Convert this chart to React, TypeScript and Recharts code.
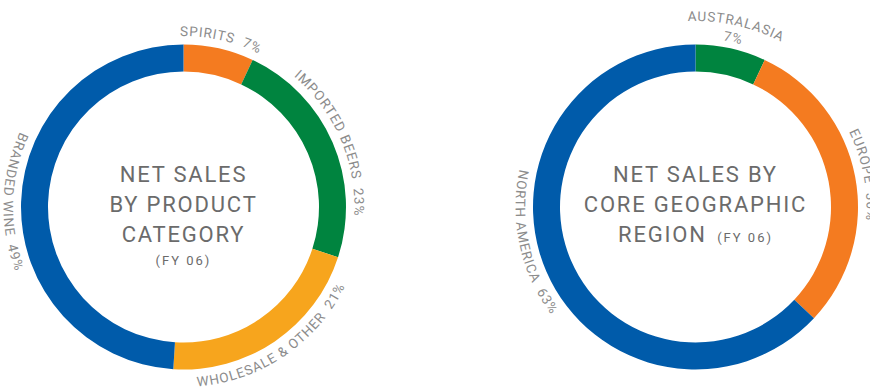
import React from 'react';
import { PieChart, Pie, Cell } from 'recharts';

// product category split (FY 06), clockwise from 12 o'clock
const productNames = ['SPIRITS', 'IMPORTED BEERS', 'WHOLESALE & OTHER', 'BRANDED WINE'];
const productShares = [7, 23, 21, 49];
const productColors = ['#f47b20', '#00843f', '#f7a51d', '#005baa'];

// core geographic region split (FY 06)
const regionNames = ['AUSTRALASIA', 'EUROPE', 'NORTH AMERICA'];
const regionShares = [7, 30, 63];
const regionColors = ['#00843f', '#f47b20', '#005baa'];

const productData = productNames.map((name, i) => ({ name, value: productShares[i] }));
const regionData = regionNames.map((name, i) => ({ name, value: regionShares[i] }));

const W = 870;
const H = 388;
const CY = 207;
const LEFT_CX = 183.5;
const RIGHT_CX = 695.5;
const OUTER = 162.5;
const INNER = 135.5;

const FONT = 'Roboto, "Liberation Sans", Arial, sans-serif';
const LABEL_GREY = '#8c8c8c';
const TITLE_GREY = '#6b6b6b';

// small tweaks so curved labels sit where the original designer put them
const labelNudge: Record<string, number> = { 'NORTH AMERICA': -11 };
const twoLineLabels = ['AUSTRALASIA'];

const rad = (d: number) => (d * Math.PI) / 180;

const arcPath = (cx: number, cy: number, r: number, center: number, clockwise: boolean) => {
    const span = 89;
    const from = clockwise ? center + span : center - span;
    const to = clockwise ? center - span : center + span;
    const x1 = cx + r * Math.cos(rad(from));
    const y1 = cy - r * Math.sin(rad(from));
    const x2 = cx + r * Math.cos(rad(to));
    const y2 = cy - r * Math.sin(rad(to));
    return `M ${x1} ${y1} A ${r} ${r} 0 0 ${clockwise ? 1 : 0} ${x2} ${y2}`;
};

const makeArcLabel = (chartKey: string) => (props: any) => {
    const { cx, cy, midAngle, name, value, index } = props;
    const angle = midAngle + (labelNudge[name] ?? 0);
    const clockwise = Math.cos(rad(angle)) > 0 && Math.sin(rad(angle)) > 0;
    const lines = twoLineLabels.includes(name)
        ? [
              { text: name, r: 186 },
              { text: `${value}%`, r: 169 },
          ]
        : [{ text: `${name}\u00a0\u00a0${value}%`, r: clockwise ? 171 : 180 }];

    return (
        <g key={`${chartKey}-${index}`}>
            {lines.map((line, j) => {
                const id = `arc-${chartKey}-${index}-${j}`;
                return (
                    <g key={id}>
                        <path id={id} d={arcPath(cx, cy, line.r, angle, clockwise)} fill="none" stroke="none" />
                        <text fill={LABEL_GREY} fontSize={13.5} fontFamily={FONT} letterSpacing={0.9}>
                            <textPath href={`#${id}`} startOffset="50%" textAnchor="middle">
                                {line.text}
                            </textPath>
                        </text>
                    </g>
                );
            })}
        </g>
    );
};

const Title = ({ cx, lines, note }: { cx: number; lines: string[]; note: 'own' | 'inline' }) => {
    const baselines = [181.5, 211.5, 241.5];
    return (
        <g fontFamily={FONT} fill={TITLE_GREY} textAnchor="middle">
            {lines.map((t, i) => (
                <text key={t} x={cx} y={baselines[i]} fontSize={22} letterSpacing={1.8}>
                    {t}
                    {note === 'inline' && i === lines.length - 1 && (
                        <tspan fontSize={13} letterSpacing={2}>
                            {'\u00a0\u00a0(FY 06)'}
                        </tspan>
                    )}
                </text>
            ))}
            {note === 'own' && (
                <text x={cx} y={265} fontSize={13} letterSpacing={2}>
                    (FY 06)
                </text>
            )}
        </g>
    );
};

export default function App() {
    return (
        <div style={{ position: 'absolute', left: 0, top: 0, width: W, height: H, background: '#fff' }}>
            <PieChart width={W} height={H} margin={{ top: 0, right: 0, bottom: 0, left: 0 }}>
                <Pie
                    data={productData}
                    dataKey="value"
                    nameKey="name"
                    cx={LEFT_CX}
                    cy={CY}
                    innerRadius={INNER}
                    outerRadius={OUTER}
                    startAngle={90}
                    endAngle={-270}
                    stroke="none"
                    label={makeArcLabel('product')}
                    labelLine={false}
                    isAnimationActive={false}
                >
                    {productData.map((d, i) => (
                        <Cell key={d.name} fill={productColors[i]} />
                    ))}
                </Pie>
                <Pie
                    data={regionData}
                    dataKey="value"
                    nameKey="name"
                    cx={RIGHT_CX}
                    cy={CY}
                    innerRadius={INNER}
                    outerRadius={OUTER}
                    startAngle={90}
                    endAngle={-270}
                    stroke="none"
                    label={makeArcLabel('region')}
                    labelLine={false}
                    isAnimationActive={false}
                >
                    {regionData.map((d, i) => (
                        <Cell key={d.name} fill={regionColors[i]} />
                    ))}
                </Pie>
                <Title cx={LEFT_CX} lines={['NET SALES', 'BY PRODUCT', 'CATEGORY']} note="own" />
                <Title cx={RIGHT_CX} lines={['NET SALES BY', 'CORE GEOGRAPHIC', 'REGION']} note="inline" />
            </PieChart>
        </div>
    );
}
